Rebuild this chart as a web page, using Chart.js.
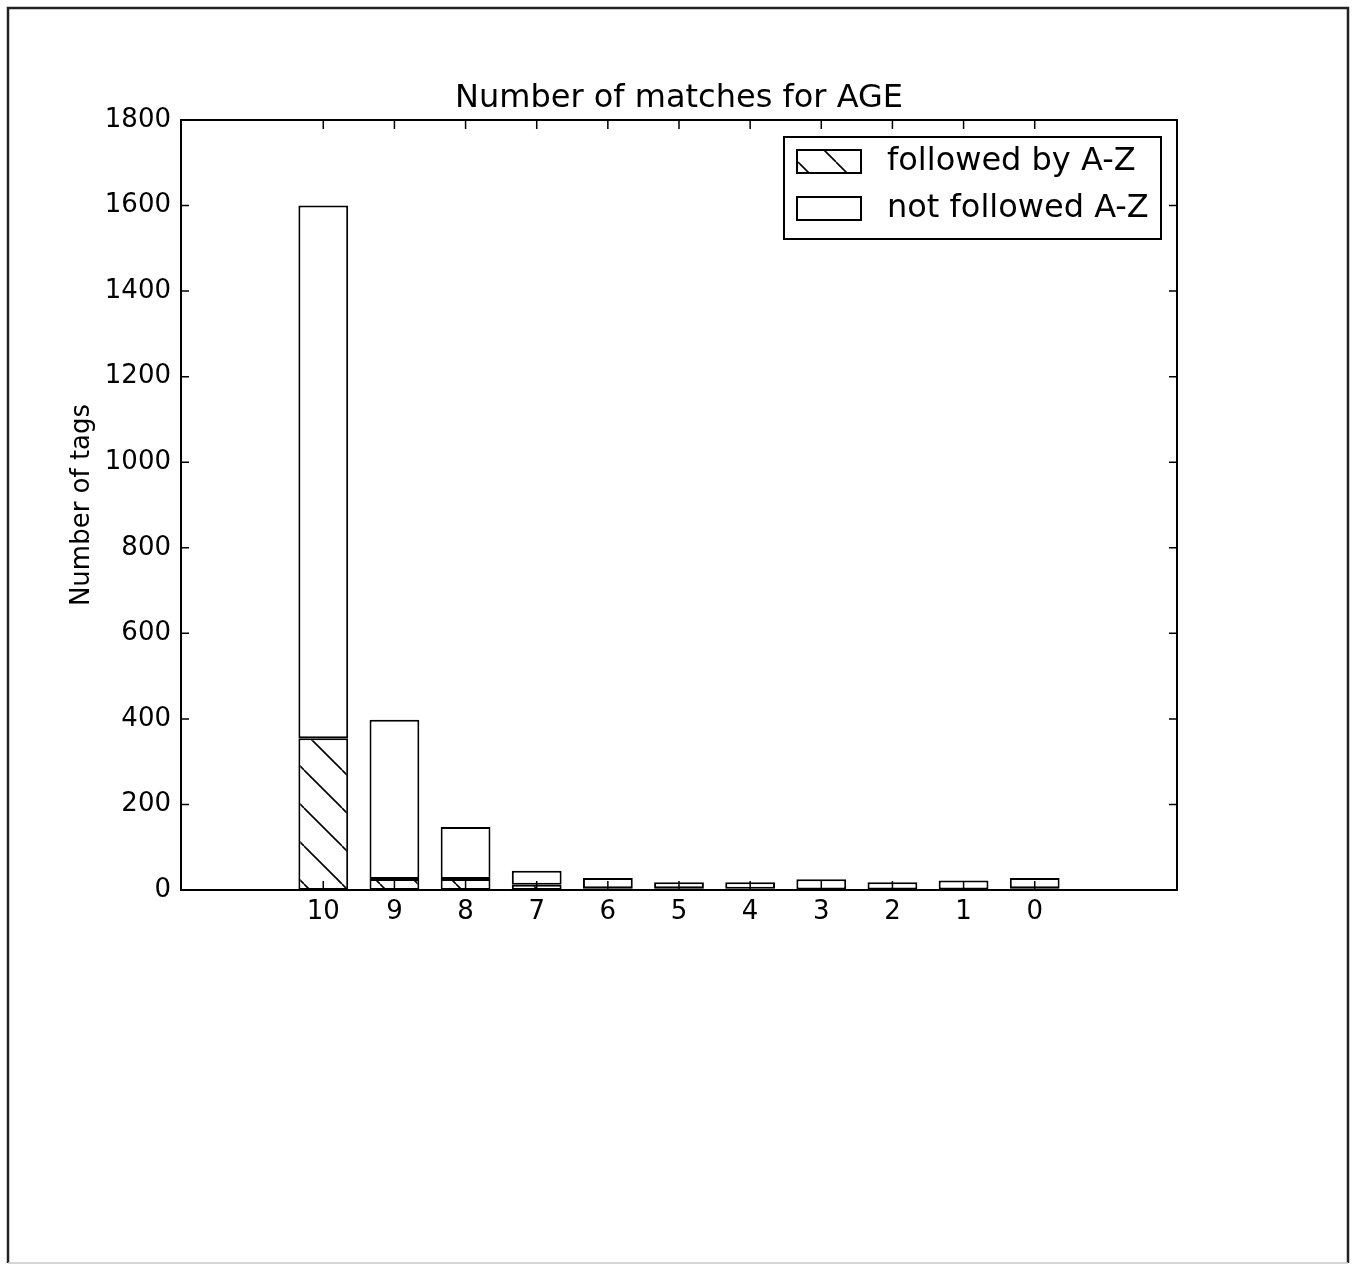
<!DOCTYPE html>
<html>
<head>
<meta charset="utf-8">
<title>Number of matches for AGE</title>
<script src="https://cdn.jsdelivr.net/npm/chart.js@4.4.1/dist/chart.umd.min.js"></script>
<style>
  html, body { margin: 0; padding: 0; background: #fff; overflow: hidden; }
  #ageChart { display: block; }
</style>
</head>
<body>
<canvas id="ageChart" width="1357" height="1265"></canvas>
<script>
// ==============================
// DATA
// ==============================
const categories = ['10', '9', '8', '7', '6', '5', '4', '3', '2', '1', '0'];
const followedAZ = [355, 26, 26, 12, 4, 4, 3, 1, 1, 1, 4];
const notFollowedAZ = [1245, 372, 121, 33, 24, 14, 15, 24, 17, 21, 24];
const seriesLabels = ['followed by A-Z', 'not followed A-Z'];
const yMax = 1800;
const yStep = 200;

Chart.defaults.font.family = "'DejaVu Sans', sans-serif";
Chart.defaults.color = '#000';

const canvas = document.getElementById('ageChart');
const ctx = canvas.getContext('2d');

// "\" hatch like matplotlib, anchored to the canvas
function makeHatch() {
    const s = 38;
    const tile = document.createElement('canvas');
    tile.width = s;
    tile.height = s;
    const g = tile.getContext('2d');
    g.fillStyle = '#fff';
    g.fillRect(0, 0, s, s);
    g.strokeStyle = '#000';
    g.lineWidth = 1.6;
    g.beginPath();
    for (const k of [-1, 0, 1]) {
        g.moveTo(k * s, 0);
        g.lineTo(k * s + s, s);
    }
    g.stroke();
    const p = ctx.createPattern(tile, 'repeat');
    if (p.setTransform) p.setTransform(new DOMMatrix().translate(0, 10));
    return p;
}
const hatch = makeHatch();

// inward ticks on all four sides + axes box (classic matplotlib look)
const axesFrame = {
    id: 'axesFrame',
    afterDatasetsDraw(chart) {
        const { ctx, chartArea: a, scales: { x, y } } = chart;
        ctx.save();
        ctx.strokeStyle = '#000';
        ctx.lineWidth = 1.5;
        ctx.beginPath();
        y.ticks.forEach(t => {
            const py = y.getPixelForValue(t.value);
            ctx.moveTo(a.left, py); ctx.lineTo(a.left + 8, py);
            ctx.moveTo(a.right, py); ctx.lineTo(a.right - 8, py);
        });
        x.ticks.forEach(t => {
            const px = x.getPixelForValue(t.value);
            ctx.moveTo(px, a.bottom); ctx.lineTo(px, a.bottom - 9);
            ctx.moveTo(px, a.top); ctx.lineTo(px, a.top + 9);
        });
        ctx.stroke();
        ctx.lineWidth = 2;
        ctx.strokeRect(a.left, a.top, a.right - a.left, a.bottom - a.top);
        ctx.restore();
    },
    afterDraw(chart) {
        const { ctx, chartArea: a } = chart;
        ctx.save();
        // legend box, upper right
        const bw = 377, bh = 102;
        const bx = a.right - 16 - bw, by = a.top + 17;
        ctx.fillStyle = '#fff';
        ctx.fillRect(bx, by, bw, bh);
        ctx.strokeStyle = '#000';
        ctx.lineWidth = 2;
        ctx.strokeRect(bx, by, bw, bh);
        ctx.font = "32px 'DejaVu Sans', sans-serif";
        ctx.textBaseline = 'middle';
        chart.data.datasets.forEach((ds, i) => {
            const sy = by + 13 + i * 47;
            ctx.fillStyle = ds.backgroundColor;
            ctx.fillRect(bx + 13, sy, 64, 23);
            ctx.lineWidth = 2;
            ctx.strokeRect(bx + 13, sy, 64, 23);
            ctx.fillStyle = '#000';
            ctx.fillText(ds.label, bx + 103, sy + 12);
        });
        // page frame
        ctx.strokeStyle = '#222';
        ctx.lineWidth = 2.5;
        ctx.beginPath();
        ctx.moveTo(8, 1263); ctx.lineTo(8, 8); ctx.lineTo(1348, 8); ctx.lineTo(1348, 1263);
        ctx.stroke();
        ctx.strokeStyle = '#c8c8c8';
        ctx.lineWidth = 1.5;
        ctx.beginPath();
        ctx.moveTo(8, 1263); ctx.lineTo(1348, 1263);
        ctx.stroke();
        ctx.restore();
    }
};

new Chart(ctx, {
    type: 'bar',
    data: {
        datasets: [
            {
                label: seriesLabels[0],
                data: followedAZ.map((v, i) => ({ x: i, y: v })),
                backgroundColor: hatch,
                borderColor: '#000',
                borderWidth: 2,
                borderSkipped: false,
                barPercentage: 0.7,
                categoryPercentage: 1.0
            },
            {
                label: seriesLabels[1],
                data: notFollowedAZ.map((v, i) => ({ x: i, y: v })),
                backgroundColor: '#fff',
                borderColor: '#000',
                borderWidth: 2,
                borderSkipped: false,
                barPercentage: 0.7,
                categoryPercentage: 1.0
            }
        ]
    },
    options: {
        responsive: false,
        animation: false,
        layout: { padding: { top: 79, left: 67, right: 180, bottom: 335 } },
        plugins: {
            legend: { display: false },
            tooltip: { enabled: false },
            title: {
                display: true,
                fullSize: false,
                text: 'Number of matches for AGE',
                font: { size: 32, weight: 'normal' },
                color: '#000',
                padding: { top: 0, bottom: 2.6 }
            }
        },
        scales: {
            x: {
                type: 'linear',
                stacked: true,
                offset: false,
                min: -2,
                max: 12,
                grid: { display: false, drawTicks: false, offset: false },
                border: { display: false },
                afterBuildTicks: scale => {
                    scale.ticks = categories.map((c, i) => ({ value: i }));
                },
                afterFit: scale => { scale.height = 40; },
                ticks: {
                    autoSkip: false,
                    maxRotation: 0,
                    padding: 7,
                    font: { size: 26 },
                    callback: value => categories[value]
                }
            },
            y: {
                stacked: true,
                min: 0,
                max: yMax,
                grid: { display: false, drawTicks: false },
                border: { display: false },
                afterFit: scale => { scale.width = 114; },
                ticks: {
                    stepSize: yStep,
                    padding: 10,
                    font: { size: 26 },
                    callback: value => String(value)
                },
                title: {
                    display: true,
                    text: 'Number of tags',
                    font: { size: 26 },
                    padding: { top: 0, bottom: 0 }
                }
            }
        }
    },
    plugins: [axesFrame]
});
</script>
</body>
</html>
